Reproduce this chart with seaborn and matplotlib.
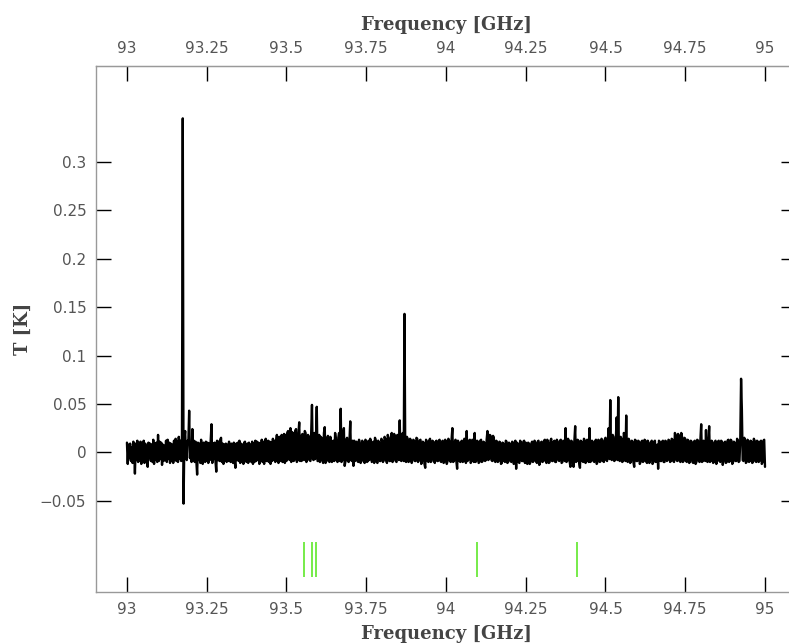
import numpy as np
import pandas as pd
import matplotlib
matplotlib.use("Agg")
import matplotlib.pyplot as plt
import seaborn as sns

# ---- data ----
freq_start = 93.0
freq_step = 0.0025  # GHz per channel
# antenna temperature in mK, one value per channel from 93.000 to 95.000 GHz
temp_mK = [
    10, -12, 8, -6, 9, -9, 5, -11, 11, 7, -22, 9, -8, 12, -10, 7, -9, 11, -12, 6,
    -8, 12, -11, 9, -7, 6, -15, 10, -6, 9, -9, 8, -10, 13, -12, 9, -8, 10, -10, 18,
    -9, 11, -7, 10, -13, 8, -9, 7, -8, 12, -10, 13, -7, 10, -11, 9, -9, 8, -11, 12,
    -8, 14, -9, 11, -10, 16, -7, 12, -9, 18, 345, -53, 14, 22, -6, -8, 12, 10, 43, -6,
    9, -10, 24, -8, 12, -10, 11, -9, -23, 10, -8, 9, -11, 13, -7, -12, 10, 9, -10, 11,
    -9, 10, -11, 9, -8, 12, 29, -11, 9, -7, 10, -9, -20, 12, -8, 11, -9, 13, 15, -10,
    9, -12, 8, -7, 9, -10, 8, -9, 11, -8, -10, 9, 8, -11, 10, -9, -16, 9, -8, 10,
    -9, 12, -11, 9, -10, 8, -12, 10, 11, -9, -10, 9, -11, 10, -9, 8, -10, 11, -12, 9,
    -10, 12, -9, 11, -8, 10, -12, 9, -8, 13, -10, 11, -12, 8, 14, -9, -9, 12, -10, 11,
    -12, 10, -9, 14, -8, 12, -10, 11, 18, -8, -11, 16, -9, 12, 18, -10, -8, 19, -11, 18,
    -9, 20, 22, -7, -8, 25, -10, 21, 20, -9, -8, 22, 24, -10, -8, 19, 31, -9, 17, -9,
    19, -6, -8, 22, 20, -10, -8, 18, 16, -8, -9, 20, 49, -7, -8, 20, -7, 15, 47, -9,
    -9, 18, -10, 16, 15, -8, -11, 20, 26, -11, -9, 14, 17, -9, -10, 16, 12, -10, -8, 12,
    -9, 20, 13, -8, -10, 15, 20, -9, 45, -10, -8, 18, 25, -14, -9, 13, 15, -9, -10, 12,
    32, -8, -9, 12, -14, 12, -9, 10, 11, -9, -10, 13, 9, -11, -9, 12, 10, -9, -11, 13,
    11, -10, -9, 12, -8, 14, 10, -10, -9, 11, -11, 15, 12, -9, -11, 12, 10, -9, -9, 14,
    12, -10, -8, 16, 14, -8, -11, 18, 15, -9, -9, 15, 20, -10, -8, 19, 16, -9, -10, 18,
    17, -8, 33, -8, -9, 19, 20, -9, 143, -9, -10, 16, 14, -10, -9, 14, 12, -11, -8, 13,
    12, -9, -9, 15, 14, -10, -8, 12, 13, -12, -9, 11, 10, -12, -16, 13, 11, -9, -10, 12,
    14, -10, -9, 12, 11, -8, -11, 11, 12, -9, -9, 12, 13, -9, -10, 11, 12, -11, -10, 13,
    11, -12, -9, 14, 12, -9, -10, 13, 25, -10, -9, 11, 13, -9, -17, 12, 10, -9, -10, 11,
    12, -10, -9, 14, 11, -11, 22, -9, -8, 12, 13, -11, -9, 13, 12, -10, 20, -10, -9, 12,
    11, -11, -10, 12, 13, -10, -9, 11, 10, -9, -8, 13, 22, -8, -7, 18, 17, -8, -9, 17,
    15, -9, -10, 12, 11, -10, -9, 11, 10, -12, -11, 10, 9, -9, -10, 12, 11, -11, -10, 10,
    9, -9, -10, 11, 10, -12, -9, 12, -17, 10, 9, -10, -11, 12, 10, -9, -9, 11, 12, -11,
    10, -10, -12, 10, 9, -12, -10, 9, 11, -10, -9, 12, 10, -9, -11, 11, 12, -13, -10, 10,
    11, -10, -9, 12, 13, -9, -11, 13, 10, -11, -10, 12, 14, -9, -9, 11, 12, -10, -10, 13,
    11, -8, -9, 12, 13, -11, -10, 12, 11, -9, 25, -10, -9, 14, 12, -9, -15, 12, 11, -10,
    -15, 12, 27, -10, -9, 13, 12, -11, -16, 12, 11, -9, -10, 14, 12, -11, -9, 13, 11, -10,
    25, -10, -9, 12, 11, -9, -10, 11, 13, -12, -10, 13, 12, -10, -9, 14, 12, -9, -10, 13,
    15, -8, -9, 13, 25, -7, 54, -7, -8, 18, 16, -9, -8, 14, 36, -8, 57, -8, -9, 16,
    14, -10, -9, 20, 18, -9, 38, -9, -10, 14, 12, -11, -9, 12, 11, -10, -15, 13, 12, -9,
    -9, 12, 11, -12, -10, 11, 12, -10, -9, 13, 12, -9, -11, 12, 10, -11, -9, 10, 12, -12,
    -10, 11, 12, -10, -9, 8, -17, 12, 11, -9, -9, 11, 12, -10, -10, 12, 11, -9, -8, 13,
    12, -10, -9, 14, 13, -9, -10, 20, 18, -8, -9, 19, 17, -9, -10, 20, 16, -10, -9, 15,
    14, -9, -10, 13, 12, -11, -9, 12, 11, -10, -11, 11, 12, -12, -10, 13, 12, -9, -10, 13,
    29, -10, -9, 12, 11, -9, 23, -9, -10, 12, 27, -10, -9, 12, 11, -11, -10, 10, 12, -12,
    -9, 11, 12, -9, -10, 12, 11, -13, -9, 10, 11, -11, -10, 12, 13, -10, -9, 13, 12, -12,
    -10, 11, 10, -9, -9, 14, 12, -10, -9, 13, 76, 44, -8, -9, 15, 12, -11, -10, 13, 12,
    -10, -9, 12, 11, -11, -10, 14, 12, -9, -10, 12, 11, -10, -9, 11, 12, -12, -10, 12, 13,
    -15,
]
# identified line markers (GHz)
line_freqs = [93.555, 93.58, 93.592, 94.097, 94.41]
line_bottom = -0.1288
line_top = -0.0925

x_ticks = [93, 93.25, 93.5, 93.75, 94, 94.25, 94.5, 94.75, 95]
x_tick_labels = ["93", "93.25", "93.5", "93.75", "94", "94.25", "94.5", "94.75", "95"]
y_ticks = [-0.05, 0, 0.05, 0.1, 0.15, 0.2, 0.25, 0.3]
y_tick_labels = ["\u22120.05", "0", "0.05", "0.1", "0.15", "0.2", "0.25", "0.3"]

freq = freq_start + freq_step * np.arange(len(temp_mK))
df = pd.DataFrame({"Frequency": freq, "T": np.array(temp_mK) / 1000.0})

# ---- plot ----
sns.set_style("ticks")
plt.rcParams["font.family"] = ["DejaVu Sans"]
plt.rcParams["path.simplify"] = False

fig = plt.figure(figsize=(7.89, 6.44), dpi=100)
ax = fig.add_axes([96 / 789, 52 / 644, (796 - 96) / 789, (592 - 65.7) / 644])

sns.lineplot(data=df, x="Frequency", y="T", ax=ax, color="black",
             linewidth=1.7, estimator=None, sort=False)
ax.vlines(line_freqs, line_bottom, line_top, colors="#5fe82a", linewidth=1.2)

ax.set_xlim(92.903, 93 + (796 - 127) / 319)
ax.set_ylim(-0.1443, 0.3994)

lab_col = "#555555"
ax.set_xticks(x_ticks)
ax.set_xticklabels(x_tick_labels)
ax.set_yticks(y_ticks)
ax.set_yticklabels(y_tick_labels)
ax.tick_params(axis="both", direction="in", length=11, width=1.0, color="black",
               labelcolor=lab_col, labelsize=11, pad=7)
ax.tick_params(axis="y", right=True)

sec = ax.secondary_xaxis("top")
sec.set_xticks(x_ticks)
sec.set_xticklabels(x_tick_labels)
sec.tick_params(direction="in", length=11, width=1.0, color="black",
                labelcolor=lab_col, labelsize=11, pad=7)
sec.set_xlabel("Frequency [GHz]", family="DejaVu Serif", fontweight="bold",
               fontsize=13, color="#444444", labelpad=8)

for sp in ax.spines.values():
    sp.set_color("#999999")
    sp.set_linewidth(1.0)
for sp in sec.spines.values():
    sp.set_color("#999999")

ax.set_xlabel("Frequency [GHz]", family="DejaVu Serif", fontweight="bold",
              fontsize=13, color="#444444", labelpad=6)
ax.set_ylabel("T [K]", family="DejaVu Serif", fontweight="bold",
              fontsize=13, color="#444444", labelpad=6)

fig.savefig("out.png", dpi=100)
